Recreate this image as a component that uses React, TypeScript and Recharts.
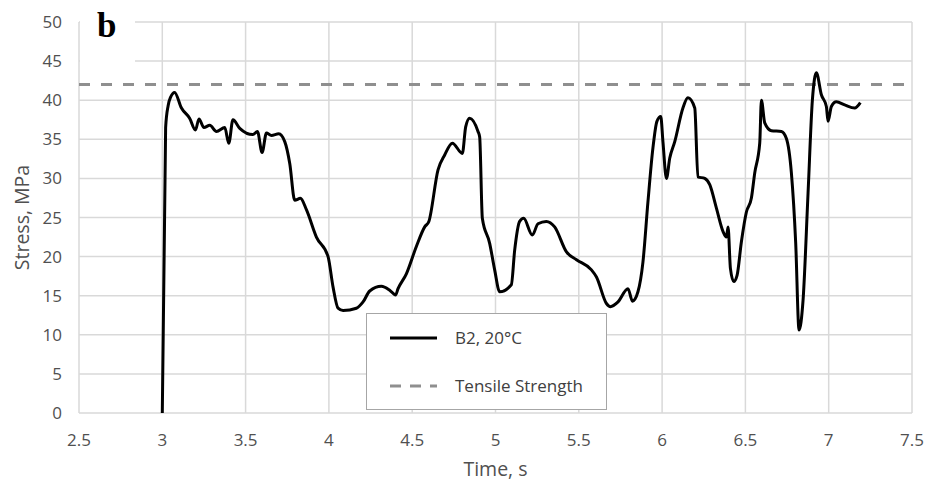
import React from 'react';
import { LineChart, Line, XAxis, YAxis, CartesianGrid, ReferenceLine, Legend, Label } from 'recharts';

// Time (s) and stress (MPa)
const times = [
  3.0, 3.02, 3.035, 3.05, 3.074, 3.115, 3.164, 3.199, 3.22, 3.25, 3.285, 3.325, 3.375, 3.399, 3.424, 3.465,
  3.544, 3.571, 3.599, 3.625, 3.655, 3.699, 3.735, 3.765, 3.795, 3.829, 3.865, 3.925, 3.995, 4.025, 4.055,
  4.085, 4.165, 4.205, 4.245, 4.315, 4.365, 4.4, 4.415, 4.465, 4.525, 4.575, 4.6, 4.655, 4.695, 4.741, 4.801,
  4.821, 4.845, 4.895, 4.905, 4.921, 4.965, 4.995, 5.025, 5.095, 5.115, 5.145, 5.169, 5.221, 5.255, 5.305,
  5.355, 5.426, 5.486, 5.576, 5.606, 5.666, 5.69, 5.735, 5.795, 5.822, 5.855, 5.885, 5.915, 5.945, 5.969,
  5.992, 6.005, 6.026, 6.046, 6.076, 6.125, 6.155, 6.196, 6.215, 6.256, 6.286, 6.326, 6.366, 6.386, 6.396,
  6.41, 6.43, 6.45, 6.476, 6.506, 6.536, 6.556, 6.586, 6.596, 6.616, 6.656, 6.716, 6.746, 6.776, 6.802,
  6.822, 6.846, 6.876, 6.902, 6.926, 6.956, 6.986, 6.996, 7.016, 7.046, 7.096, 7.156, 7.19,
];
const stress = [
  0, 36.5, 39.3, 40.4, 41.0, 39.0, 37.7, 36.2, 37.6, 36.5, 36.8, 36.0, 36.5, 34.5, 37.5, 36.4,
  35.6, 36.0, 33.3, 35.8, 35.5, 35.7, 34.7, 31.9, 27.2, 27.45, 26.0, 22.5, 20.0, 16.1, 13.4,
  13.1, 13.4, 14.2, 15.6, 16.2, 15.7, 15.1, 15.9, 17.8, 21.3, 23.8, 24.5, 31.1, 33.0, 34.5, 33.2,
  36.6, 37.7, 36.0, 35.3, 24.9, 21.7, 18.3, 15.5, 16.4, 20.8, 24.5, 24.9, 22.75, 24.2, 24.5,
  23.8, 20.6, 19.6, 18.3, 17.4, 14.0, 13.6, 14.2, 15.9, 14.3, 15.5, 19.3, 27.0, 33.9, 37.3,
  37.9, 34.7, 30.0, 32.6, 34.7, 39.0, 40.3, 39.0, 30.2, 30.0, 29.2, 26.2, 23.2, 22.5, 23.8,
  18.5, 16.8, 17.6, 21.9, 25.7, 27.5, 30.7, 34.5, 40.0, 37.1, 36.1, 36.0, 35.1, 30.7, 21.7,
  10.6, 14.4, 28.1, 40.0, 43.5, 40.7, 39.2, 37.3, 39.2, 39.8, 39.4, 39.0, 39.7,
];
const tensileStrength = 42;

const xTicks = [2.5, 3, 3.5, 4, 4.5, 5, 5.5, 6, 6.5, 7, 7.5];
const yTicks = [0, 5, 10, 15, 20, 25, 30, 35, 40, 45, 50];

const seriesName = 'B2, 20°C';
const refName = 'Tensile Strength';

const data = times.map((t, i) => ({ t, stress: stress[i] }));

const font = '"Open Sans", "Noto Sans", sans-serif';

const LegendBox = () => (
  <div
    style={{
      width: 241,
      height: 97,
      boxSizing: 'border-box',
      border: '1.5px solid #a6a6a6',
      background: '#fff',
      position: 'relative',
      fontFamily: font,
      fontSize: 17,
      color: '#404040',
    }}
  >
    <svg width={70} height={97} style={{ position: 'absolute', left: 0, top: 0 }}>
      <line x1={23} x2={80} y1={24} y2={24} stroke="#000" strokeWidth={3} />
      <line x1={23} x2={80} y1={72} y2={72} stroke="#8f8f8f" strokeWidth={3} strokeDasharray="11 9" />
    </svg>
    <span style={{ position: 'absolute', left: 88, top: 12, lineHeight: '24px' }}>{seriesName}</span>
    <span style={{ position: 'absolute', left: 88, top: 60, lineHeight: '24px' }}>{refName}</span>
  </div>
);

export default function App() {
  return (
    <div style={{ position: 'absolute', left: 0, top: 0, width: 926, height: 483, background: '#fff' }}>
      <LineChart width={926} height={483} data={data} margin={{ top: 22, right: 14, bottom: 40, left: 0 }}>
        <CartesianGrid stroke="#d9d9d9" strokeWidth={1.5} />
        <XAxis
          dataKey="t"
          type="number"
          domain={[2.5, 7.5]}
          ticks={xTicks}
          height={30}
          axisLine={false}
          tickLine={false}
          tickSize={0}
          tickMargin={21}
          tick={{ fill: '#505050', fontSize: 17, fontFamily: font }}
        >
          <Label value="Time, s" position="bottom" offset={19} style={{ fill: '#505050', fontSize: 19.5, fontFamily: font }} />
        </XAxis>
        <YAxis
          type="number"
          domain={[0, 50]}
          ticks={yTicks}
          width={79}
          axisLine={false}
          tickLine={false}
          tickSize={0}
          tickMargin={17}
          tick={{ fill: '#505050', fontSize: 17, fontFamily: font }}
        >
          <Label
            value="Stress, MPa"
            angle={-90}
            position="insideLeft"
            offset={22}
            style={{ fill: '#505050', fontSize: 19.5, fontFamily: font, textAnchor: 'middle' }}
          />
        </YAxis>
        <ReferenceLine y={tensileStrength} stroke="#8f8f8f" strokeWidth={3} strokeDasharray="11 11" />
        <Line
          type="monotone"
          dataKey="stress"
          name={seriesName}
          stroke="#000"
          strokeWidth={3}
          dot={false}
          isAnimationActive={false}
        />
        <Legend
          layout="horizontal"
          align="center"
          verticalAlign="middle"
          content={() => <LegendBox />}
          wrapperStyle={{ position: 'absolute', left: 366, top: 313, width: 241, height: 97 }}
        />
      </LineChart>
      <div
        style={{
          position: 'absolute',
          left: 80,
          top: 0,
          width: 55,
          height: 64,
          background: '#fff',
          fontFamily: '"Liberation Serif", "Times New Roman", serif',
          fontWeight: 'bold',
          fontSize: 35,
        }}
      >
        <span style={{ position: 'absolute', left: 17, top: 6, lineHeight: '40px' }}>b</span>
      </div>
    </div>
  );
}
